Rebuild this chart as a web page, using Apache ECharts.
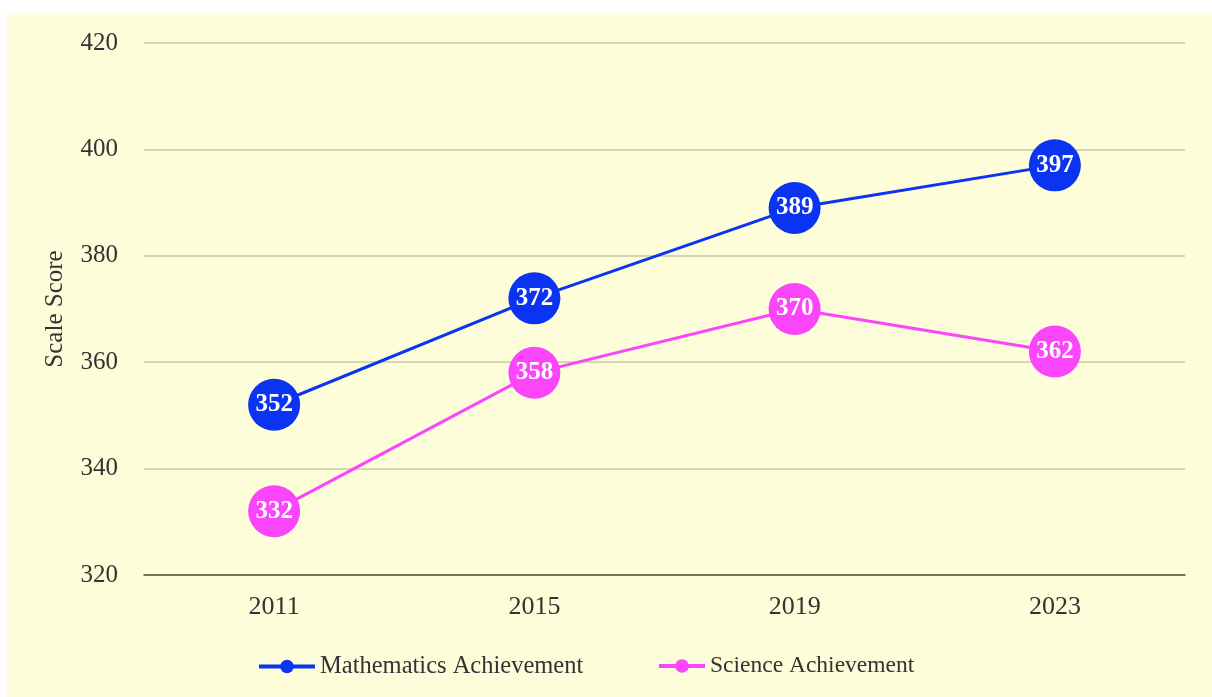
<!DOCTYPE html>
<html><head><meta charset="utf-8">
<script src="https://cdn.jsdelivr.net/npm/echarts@6/dist/echarts.min.js"></script>
<style>
html,body{margin:0;padding:0;background:#fff;width:1212px;height:697px;overflow:hidden}
#c{position:absolute;left:7px;top:13px;width:1205px;height:684px;background:#fdfdd9}
</style></head><body>
<div id="c"></div>
<script>
const years = ['2011','2015','2019','2023'];
const mathScores = [352, 372, 389, 397];
const scienceScores = [332, 358, 370, 362];
const seriesNames = ['Mathematics Achievement','Science Achievement'];
const colors = ['#0b33f2','#fb45fb'];

const font = '"Liberation Serif","DejaVu Serif",serif';
const chart = echarts.init(document.getElementById('c'));
function mk(name, data, color){
  return {
    name, type:'line', data,
    symbol:'circle', symbolSize:52,
    lineStyle:{color, width:3},
    itemStyle:{color},
    label:{show:true, position:'inside', color:'#fff', fontWeight:'bold', fontFamily:font, fontSize:25},
    emphasis:{disabled:true}
  };
}
chart.setOption({
  animation:false,
  backgroundColor:'#fdfdd9',
  color:colors,
  grid:{left:137, right:27, top:30, bottom:122},
  xAxis:{type:'category', data:years, boundaryGap:true,
    axisLine:{show:true, lineStyle:{color:'#55552a', width:1.5}},
    axisTick:{show:false},
    axisLabel:{color:'#333', fontFamily:font, fontSize:26, margin:19}},
  yAxis:{type:'value', min:320, max:420, interval:20,
    name:'Scale Score', nameLocation:'middle', nameGap:76,
    nameTextStyle:{color:'#333', fontFamily:font, fontSize:25},
    axisLine:{show:false}, axisTick:{show:false},
    axisLabel:{color:'#333', fontFamily:font, fontSize:25, margin:26},
    splitLine:{lineStyle:{color:'#c9c9a2', width:1.5}}},
  legend:[
    {left:245, top:636, itemWidth:56, itemHeight:17,
     lineStyle:{width:4},
     textStyle:{color:'#333', fontFamily:font, fontSize:24.5},
     data:[seriesNames[0]]},
    {left:645, top:636, itemWidth:46, itemHeight:17,
     lineStyle:{width:4},
     textStyle:{color:'#333', fontFamily:font, fontSize:23.5},
     data:[seriesNames[1]]}
  ],
  series:[mk(seriesNames[0], mathScores, colors[0]), mk(seriesNames[1], scienceScores, colors[1])]
});
</script></body></html>
